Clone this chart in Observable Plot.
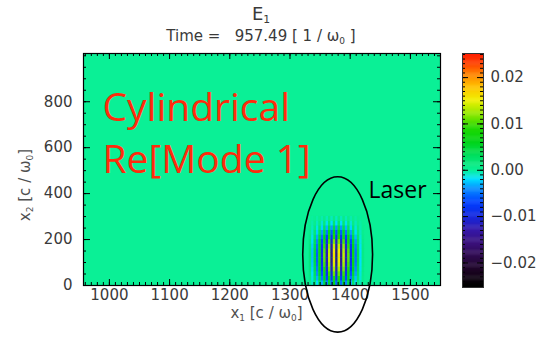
<!DOCTYPE html>
<html><head><meta charset="utf-8">
<script src="https://cdn.jsdelivr.net/npm/d3@7"></script>
<script src="https://cdn.jsdelivr.net/npm/@observablehq/plot@0.6"></script>
<style>
body{margin:0;background:#fff;}
#wrap{position:relative;width:537px;height:338px;font-family:"DejaVu Sans",sans-serif;color:#3a3a3a;overflow:hidden;}
.hd{position:absolute;left:0;width:522px;text-align:center;white-space:pre;}
#t1{top:5px;font-size:18px;line-height:18px;}
#t2{top:29px;font-size:15px;line-height:15px;}
.sb{font-size:0.6em;position:relative;top:0.3em;}
#main{position:absolute;left:0;top:45px;}
#cbar{position:absolute;left:440px;top:45px;}
</style></head>
<body><div id="wrap">
<div class="hd" id="t1">E<span class="sb">1</span></div>
<div class="hd" id="t2">Time =   957.49 [ 1 / ω<span class="sb">0</span> ]</div>
<div id="main"></div><div id="cbar"></div>
</div>
<script>
// ---- data ----
const xDomain = [957, 1550];
const yDomain = [0, 1010];
const xTicks = [1000, 1100, 1200, 1300, 1400, 1500];
const yTicks = [0, 200, 400, 600, 800];
const cDomain = [-0.0253, 0.0252];
const cTicks = [-0.02, -0.01, 0.00, 0.01, 0.02];
// colour table (IDL-like rainbow), value stops and colours
const cStops  = [-0.025, -0.022, -0.019, -0.016, -0.013, -0.010, -0.007, -0.004, -0.002, 0.000, 0.003, 0.006, 0.009, 0.012, 0.015, 0.018, 0.021, 0.023, 0.025];
const cColors = ["#000000","#1a0420","#2c0a48","#3a1078","#3518a8","#1428e0","#0040ff","#0890ff","#00e0ff","#0af096","#00e060","#00d418","#20d800","#90e800","#f0f000","#ffc000","#ff7a00","#ff4000","#ff1e00"];
// laser pulse: column centres (x1) with signed oscillation amplitude, row centres (x2) with envelope
const pulseCols = [1334,1338,1342,1346,1350,1354,1358,1362,1366,1370,1374,1378,1382,1386,1390,1394,1398,1402,1406,1410,1414,1418,1422];
const pulseColAmp = [0.10,-0.18,0.27,-0.37,0.48,-0.58,0.68,-0.78,0.87,-0.94,0.98,-1.00,0.98,-0.94,0.87,-0.78,0.68,-0.57,0.45,-0.33,0.22,-0.13,0.06];
const pulseRows = [10,30,50,70,90,110,130,150,170,190,210,230,250,270,290];
const pulseRowAmp = [0.35,0.55,0.70,0.82,0.92,0.98,1.00,0.97,0.88,0.74,0.57,0.40,0.25,0.13,0.05];
const pulsePeak = 0.016;
// annotation ellipse (data coords) around the pulse
const ellipse = {cx: 1380, cy: 133, rx: 58, ry: 338};

const colorOpts = {type: "linear", domain: cStops, range: cColors, clamp: true};
const dx = pulseCols[1] - pulseCols[0], dy = pulseRows[1] - pulseRows[0];
const cells = [];
pulseCols.forEach((x, i) => pulseRows.forEach((y, j) => cells.push({x, y, v: pulseColAmp[i] * pulseRowAmp[j] * pulsePeak})));

const W = 537, H = 293, mL = 83, mR = 97, mT = 8, mB = 53;
const fw = W - mL - mR, fh = H - mT - mB;
const xMinor = d3.range(960, 1551, 10);
const yMinor = d3.range(0, 1001, 50);
const tickStyle = {stroke: "#000", strokeWidth: 1};

const plot = Plot.plot({
  width: W, height: H, marginLeft: mL, marginRight: mR, marginTop: mT, marginBottom: mB,
  style: {fontFamily: "DejaVu Sans", fontSize: "15px", color: "#3a3a3a", background: "transparent"},
  x: {domain: xDomain}, y: {domain: yDomain},
  color: colorOpts,
  marks: [
    Plot.rect([{v: 0}], {x1: () => xDomain[0], x2: () => xDomain[1], y1: () => yDomain[0], y2: () => yDomain[1], fill: "v"}),
    Plot.rect(cells, {x1: d => d.x - dx / 2, x2: d => d.x + dx / 2, y1: d => d.y - dy / 2 - 0.6, y2: d => d.y + dy / 2 + 0.6, fill: "v"}),
    Plot.ruleX(xMinor, {x: d => d, insetTop: fh - 3, ...tickStyle}),
    Plot.ruleX(xMinor, {x: d => d, insetBottom: fh - 3, ...tickStyle}),
    Plot.ruleX(xTicks, {x: d => d, insetTop: fh - 6, ...tickStyle}),
    Plot.ruleX(xTicks, {x: d => d, insetBottom: fh - 6, ...tickStyle}),
    Plot.ruleY(yMinor, {y: d => d, insetRight: fw - 3, ...tickStyle}),
    Plot.ruleY(yMinor, {y: d => d, insetLeft: fw - 3, ...tickStyle}),
    Plot.ruleY(yTicks, {y: d => d, insetRight: fw - 7, ...tickStyle}),
    Plot.ruleY(yTicks, {y: d => d, insetLeft: fw - 7, ...tickStyle}),
    Plot.frame({stroke: "#000", strokeWidth: 1.2}),
    Plot.axisX(xTicks, {tickSize: 0, tickPadding: 4, label: null, tickFormat: d => String(d), fill: "#3a3a3a"}),
    Plot.axisY(yTicks, {tickSize: 0, tickPadding: 11, label: null, tickFormat: d => String(d), fill: "#3a3a3a"}),
    Plot.text(["Cylindrical"], {frameAnchor: "top-left", dx: 19, dy: 55, textAnchor: "start", lineAnchor: "middle", fontFamily: "Open Sans", fontSize: 39, fill: "#ff2b0c"}),
    Plot.text(["Re[Mode 1]"], {frameAnchor: "top-left", dx: 19, dy: 107, textAnchor: "start", lineAnchor: "middle", fontFamily: "Open Sans", fontSize: 39, fill: "#ff2b0c"}),
    Plot.text(["Laser"], {frameAnchor: "top-left", dx: 285, dy: 137, textAnchor: "start", lineAnchor: "middle", fontFamily: "Open Sans", fontSize: 23, fill: "#000"})
  ]
});
document.getElementById("main").appendChild(plot);

// ellipse through plot scales
const sx = plot.scale("x"), sy = plot.scale("y");
const svg = d3.select(plot.tagName === "svg" ? plot : plot.querySelector("svg"));
const ecx = sx.apply(ellipse.cx), ecy = sy.apply(ellipse.cy);
const erx = Math.abs(sx.apply(ellipse.cx + ellipse.rx) - ecx), ery = Math.abs(sy.apply(ellipse.cy + ellipse.ry) - ecy);
svg.append("ellipse").attr("cx", ecx).attr("cy", ecy).attr("rx", erx).attr("ry", ery)
  .attr("fill", "none").attr("stroke", "#000").attr("stroke-width", 1.6);

// axis titles with subscripts
const xl = svg.append("text").attr("x", mL + fw / 2 + 5).attr("y", 273).attr("text-anchor", "middle")
  .attr("font-family", "DejaVu Sans").attr("font-size", 15).attr("fill", "#505050");
xl.append("tspan").text("x");
xl.append("tspan").attr("font-size", 9).attr("dy", 3).text("1");
xl.append("tspan").attr("dy", -3).text(" [c / ω");
xl.append("tspan").attr("font-size", 9).attr("dy", 3).text("0");
xl.append("tspan").attr("dy", -3).text("]");
const yl = svg.append("text").attr("transform", `translate(30,${mT + fh / 2 + 16}) rotate(-90)`).attr("text-anchor", "middle")
  .attr("font-family", "DejaVu Sans").attr("font-size", 15).attr("fill", "#505050");
yl.append("tspan").text("x");
yl.append("tspan").attr("font-size", 9).attr("dy", 3).text("2");
yl.append("tspan").attr("dy", -3).text(" [c / ω");
yl.append("tspan").attr("font-size", 9).attr("dy", 3).text("0");
yl.append("tspan").attr("dy", -3).text("]");

// colour bar
const step = 0.0002;
const bands = d3.range(cDomain[0], cDomain[1], step);
const cbMinor = d3.range(-25, 26, 1).map(d => d / 1000);
const CW = 97, cmL = 22, cmR = 54, cmT = 8, cmB = 51;
const cbw = CW - cmL - cmR;
const cbar = Plot.plot({
  width: CW, height: H, marginLeft: cmL, marginRight: cmR, marginTop: cmT, marginBottom: cmB,
  style: {fontFamily: "DejaVu Sans", fontSize: "15px", color: "#3a3a3a", background: "transparent"},
  x: {domain: [0, 1], axis: null}, y: {domain: cDomain},
  color: colorOpts,
  marks: [
    Plot.rect(bands, {x1: 0, x2: 1, y1: d => d, y2: d => Math.min(d + step * 1.5, cDomain[1]), fill: d => d + step / 2}),
    Plot.ruleY(cbMinor, {y: d => d, insetRight: cbw - 3, ...tickStyle}),
    Plot.ruleY(cbMinor, {y: d => d, insetLeft: cbw - 3, ...tickStyle}),
    Plot.ruleY(cTicks, {y: d => d, insetRight: cbw - 6, ...tickStyle}),
    Plot.ruleY(cTicks, {y: d => d, insetLeft: cbw - 6, ...tickStyle}),
    Plot.frame({stroke: "#333", strokeWidth: 1}),
    Plot.axisY(cTicks, {anchor: "right", tickSize: 0, tickPadding: 7, label: null, tickFormat: d3.format(".2f"), fill: "#3a3a3a"})
  ]
});
document.getElementById("cbar").appendChild(cbar);
</script>
</body></html>
